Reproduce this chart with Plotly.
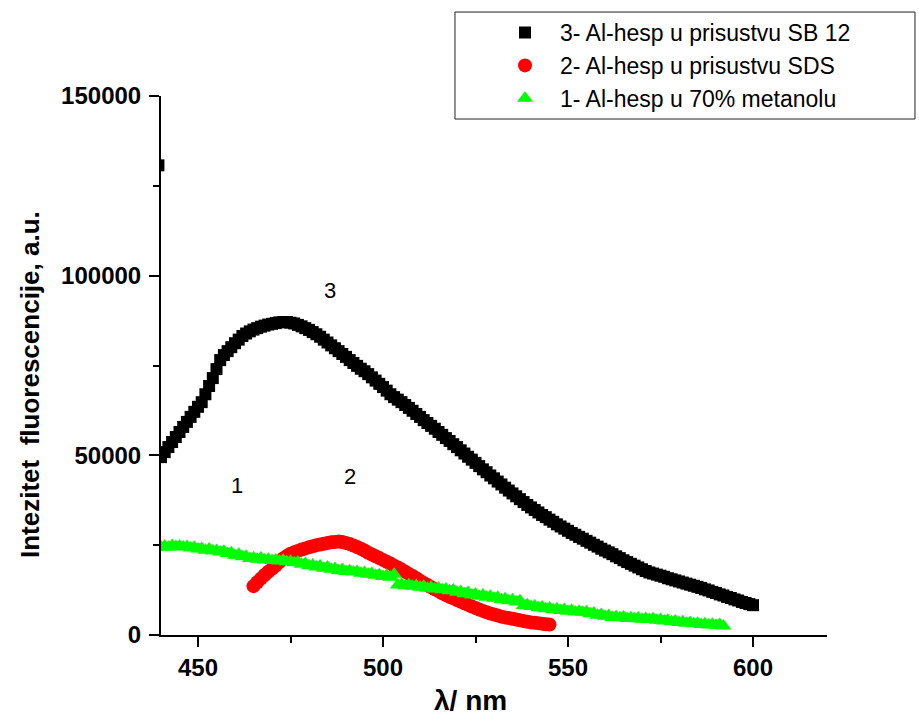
import plotly.graph_objects as go

# ---------------- data ----------------
wl_black = [439.3] + list(range(440, 601))
int_black = [130700,
    49500, 50900, 52300, 53700, 55100, 56500, 57900, 59300, 60700, 62100,   # 440-449
    63500, 64800, 67000, 69300, 71500, 74000, 76500, 77900, 79000, 80100,   # 450-459
    81200, 82200, 83200, 83900, 84500, 85000, 85400, 85800, 86100, 86400,   # 460-469
    86600, 86800, 87000, 87100, 87100, 86900, 86700, 86300, 85900, 85400,   # 470-479
    84900, 84300, 83700, 83000, 82200, 81400, 80600, 79800, 79000, 78200,   # 480-489
    77400, 76500, 75700, 74900, 74100, 73400, 72600, 71700, 70800, 69900,   # 490-499
    69000, 68000, 67000, 66200, 65500, 64800, 64000, 63200, 62400, 61500,   # 500-509
    60700, 59800, 59000, 58200, 57400, 56500, 55700, 54800, 54000, 53100,   # 510-519
    52300, 51400, 50500, 49600, 48800, 47900, 47000, 46100, 45300, 44400,   # 520-529
    43600, 42700, 41900, 41000, 40200, 39400, 38600, 37800, 37000, 36200,   # 530-539
    35500, 34800, 34100, 33400, 32800, 32100, 31500, 30800, 30200, 29600,   # 540-549
    29000, 28400, 27900, 27300, 26800, 26200, 25700, 25100, 24600, 24000,   # 550-559
    23500, 23000, 22500, 21900, 21400, 20800, 20300, 19800, 19300, 18800,   # 560-569
    18300, 17800, 17400, 17100, 16800, 16500, 16200, 15800, 15500, 15200,   # 570-579
    14900, 14600, 14300, 14000, 13700, 13400, 13100, 12700, 12400, 12000,   # 580-589
    11700, 11300, 11000, 10600, 10300, 9900, 9600, 9200, 8900, 8600,       # 590-599
    8300]                                                                   # 600

wl_red = list(range(465, 546))
int_red = [
    13600, 14700, 15700, 16700, 17600,                                      # 465-469
    18400, 19300, 20300, 21300, 22000, 22600, 23000, 23400, 23800, 24100,   # 470-479
    24400, 24700, 25000, 25200, 25400, 25600, 25800, 25900, 26000, 25900,   # 480-489
    25600, 25300, 24900, 24500, 24000, 23500, 22900, 22400, 21900, 21400,   # 490-499
    20900, 20400, 19900, 19300, 18800, 18200, 17600, 17000, 16400, 15800,   # 500-509
    15100, 14500, 13900, 13300, 12700, 12200, 11600, 11100, 10600, 10200,   # 510-519
    9700, 9300, 8800, 8400, 7900, 7500, 7100, 6700, 6300, 6000,             # 520-529
    5700, 5400, 5100, 4900, 4700, 4500, 4300, 4100, 3900, 3700,             # 530-539
    3500, 3400, 3300, 3100, 3000, 2900]                                     # 540-545

wl_green = list(range(440, 593))
int_green = [
    24500, 24800, 24400, 24900, 24600, 24800, 24500, 24600, 24200, 24400,   # 440-449
    23900, 24100, 23600, 23900, 23400, 23500, 23100, 23300, 22700, 22900,   # 450-459
    22200, 22500, 21800, 21900, 21300, 21500, 21100, 21400, 20900, 21100,   # 460-469
    20700, 20900, 20600, 20800, 20400, 20500, 20100, 20300, 19700, 19900,   # 470-479
    19300, 19500, 18900, 19200, 18600, 18900, 18300, 18500, 17900, 18200,   # 480-489
    17700, 17900, 17500, 17700, 17200, 17400, 16900, 17100, 16600, 16800,   # 490-499
    16300, 16600, 16100, 16900, 13900, 14100, 13700, 14000, 13600, 13800,   # 500-509
    13300, 13600, 13000, 13300, 12800, 13100, 12600, 12800, 12300, 12500,   # 510-519
    11900, 12100, 11500, 11800, 11100, 11400, 10800, 11100, 10500, 10800,   # 520-529
    10200, 10500, 9800, 10100, 9500, 9800, 9200, 9500, 8200, 8400,         # 530-539
    7900, 8100, 7600, 7800, 7300, 7500, 7000, 7300, 6800, 7100,             # 540-549
    6600, 6900, 6400, 6600, 6300, 6500, 5900, 6100, 5500, 5700,             # 550-559
    5200, 5400, 4900, 5100, 4800, 5000, 4600, 4800, 4500, 4700,             # 560-569
    4400, 4600, 4300, 4500, 4100, 4300, 3900, 4100, 3700, 3900,             # 570-579
    3500, 3700, 3300, 3500, 3100, 3300, 2900, 3100, 2800, 3000,             # 580-589
    2700, 2900, 2500]                                                       # 590-592

names = ["3- Al-hesp u prisustvu SB 12",
         "2- Al-hesp u prisustvu SDS",
         "1- Al-hesp u 70% metanolu"]

curve_labels = ["3", "1", "2"]
curve_label_x = [485.7, 460.5, 491.1]
curve_label_y = [95900, 41600, 44200]

x_ticks = [450, 500, 550, 600]
y_ticks = [0, 50000, 100000, 150000]

FONT = "Liberation Sans, Arial, sans-serif"

fig = go.Figure()
fig.add_trace(go.Scatter(x=wl_black, y=int_black, mode="markers", name=names[0],
                         legendgroup="a",
                         marker=dict(symbol="square", size=12, color="black",
                                     line=dict(width=0))))
fig.add_trace(go.Scatter(x=wl_red, y=int_red, mode="markers", name=names[1],
                         legendgroup="b",
                         marker=dict(symbol="circle", size=14, color="#ff0000",
                                     line=dict(width=0))))
fig.add_trace(go.Scatter(x=wl_green, y=int_green, mode="markers", name=names[2],
                         legendgroup="c",
                         marker=dict(symbol="triangle-up", size=14, color="#00ff00",
                                     line=dict(width=0))))

for t, xx, yy in zip(curve_labels, curve_label_x, curve_label_y):
    fig.add_annotation(x=xx, y=yy, text=t, showarrow=False,
                       font=dict(family=FONT, size=22, color="black"))

# axis titles
fig.add_annotation(xref="paper", yref="paper", x=0.464, y=-0.1206,
                   text="λ/ nm", showarrow=False,
                   font=dict(family=FONT, size=28, color="black", weight="bold"),
                   xanchor="center", yanchor="middle")
fig.add_annotation(xref="paper", yref="paper", x=-0.1967, y=0.4657,
                   text="Intezitet  fluorescencije, a.u.", showarrow=False,
                   textangle=-90,
                   font=dict(family=FONT, size=26, color="black", weight="bold"),
                   xanchor="center", yanchor="middle")

# legend frame
fig.add_shape(type="rect", xref="paper", yref="paper",
              x0=0.4414, x1=1.1321, y0=0.9573, y1=1.1558,
              line=dict(color="#222222", width=1), fillcolor="rgba(0,0,0,0)")

axis_common = dict(showgrid=False, zeroline=False, showline=True,
                   linecolor="black", linewidth=2, ticks="outside",
                   ticklen=10, tickwidth=2, tickcolor="black",
                   tickfont=dict(family=FONT, size=24, color="black", weight="bold"),
                   mirror=False)

fig.update_xaxes(range=[440, 620], tickvals=x_ticks,
                 minor=dict(ticks="outside", ticklen=6, tickwidth=2,
                            tickcolor="black", dtick=25, tick0=0),
                 **axis_common)
fig.update_yaxes(range=[0, 150000], tickvals=y_ticks, tickformat="d",
                 minor=dict(ticks="outside", ticklen=6, tickwidth=2,
                            tickcolor="black", dtick=25000, tick0=0),
                 ticklabelstandoff=3,
                 **axis_common)

fig.update_layout(
    width=919, height=720,
    margin=dict(l=161, r=92, t=96, b=85, pad=0, autoexpand=False),
    plot_bgcolor="white", paper_bgcolor="white",
    showlegend=True,
    legend=dict(x=0.494, y=1.1576, xanchor="left", yanchor="top",
                bgcolor="rgba(0,0,0,0)", borderwidth=0,
                font=dict(family=FONT, size=23, color="black"),
                itemwidth=60, tracegroupgap=1, traceorder="normal"),
)

fig.write_html("out.html")
